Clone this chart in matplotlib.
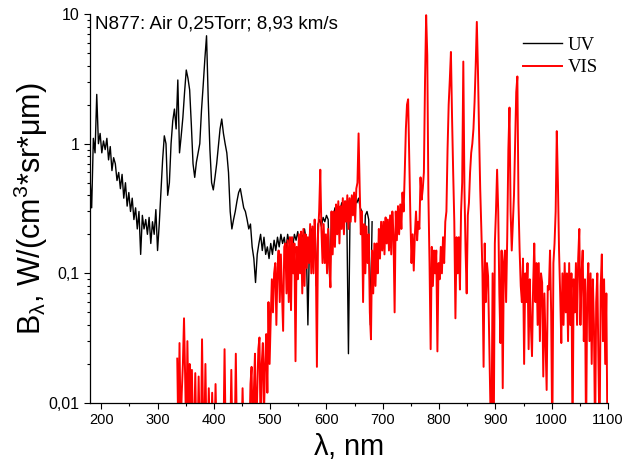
import numpy as np
import matplotlib
matplotlib.use("Agg")
import matplotlib.pyplot as plt
from matplotlib.ticker import FixedLocator, NullFormatter, LogLocator

plt.rcParams['font.family'] = ['Liberation Sans', 'DejaVu Sans']
plt.rcParams['mathtext.fontset'] = 'custom'
plt.rcParams['mathtext.rm'] = 'Liberation Sans'
plt.rcParams['mathtext.it'] = 'Liberation Sans:italic'
plt.rcParams['mathtext.default'] = 'regular'

# UV spectrum: 180 nm onwards, 3 nm step
uv_start, uv_step = 180, 3
uv_vals = [
    0.55, 0.32, 1.1, 0.85, 2.4, 1.0, 1.2, 0.85, 1.05, 0.9,
    1.1, 0.75, 0.95, 0.62, 0.78, 0.7, 0.52, 0.6, 0.45, 0.58,
    0.38, 0.5, 0.33, 0.42, 0.3, 0.38, 0.26, 0.32, 0.22, 0.3,
    0.14, 0.28, 0.22, 0.26, 0.2, 0.27, 0.17, 0.25, 0.2, 0.31,
    0.15, 0.24, 0.42, 0.75, 1.15, 1.0, 0.4, 0.5, 1.0, 1.5,
    1.85, 1.3, 3.1, 0.85, 1.15, 1.6, 2.5, 3.7, 3.2, 2.6,
    1.4, 0.7, 0.55, 0.72, 0.85, 1.0, 1.8, 2.8, 4.5, 6.8,
    2.2, 0.9, 0.5, 0.44, 0.55, 0.7, 0.95, 1.3, 1.55, 1.2,
    1.0, 0.85, 0.6, 0.3, 0.22, 0.26, 0.3, 0.36, 0.42, 0.45,
    0.38, 0.32, 0.3, 0.26, 0.22, 0.24, 0.16, 0.13, 0.085, 0.14,
    0.17, 0.2, 0.15, 0.19, 0.14, 0.16, 0.13, 0.17, 0.14, 0.18,
    0.15, 0.19, 0.16, 0.2, 0.17, 0.19, 0.15, 0.2, 0.17, 0.19,
    0.16, 0.2, 0.18, 0.21, 0.17, 0.2, 0.19, 0.22, 0.18, 0.04,
    0.2, 0.22, 0.19, 0.23, 0.08, 0.24, 0.26, 0.23, 0.27, 0.25,
    0.28, 0.26, 0.08, 0.3, 0.27, 0.32, 0.29, 0.33, 0.3, 0.35,
    0.32, 0.36, 0.3, 0.024, 0.34, 0.3, 0.33, 0.37, 0.35, 0.38,
    0.32, 0.3, 0.1, 0.28, 0.3, 0.26, 0.04, 0.25,
]

# VIS spectrum: 335 nm onwards, 2 nm step (values < 0.01 fall below the axis)
vis_start, vis_step = 335, 2
vis_vals = [
    0.022, 0.005, 0.029, 0.006, 0.012, 0.02, 0.045, 0.016, 0.005, 0.03,
    0.008, 0.02, 0.005, 0.018, 0.005, 0.006, 0.017, 0.005, 0.005, 0.016,
    0.005, 0.005, 0.031, 0.007, 0.005, 0.02, 0.005, 0.005, 0.013, 0.005,
    0.005, 0.012, 0.005, 0.005, 0.014, 0.005, 0.005, 0.005, 0.005, 0.005,
    0.005, 0.005, 0.026, 0.005, 0.005, 0.005, 0.005, 0.005, 0.018, 0.005,
    0.005, 0.005, 0.024, 0.005, 0.005, 0.005, 0.005, 0.005, 0.013, 0.005,
    0.005, 0.005, 0.005, 0.005, 0.005, 0.014, 0.019, 0.005, 0.012, 0.024,
    0.005, 0.012, 0.026, 0.032, 0.006, 0.02, 0.029, 0.008, 0.02, 0.034,
    0.012, 0.06, 0.02, 0.045, 0.09, 0.05, 0.1, 0.12, 0.04, 0.11,
    0.15, 0.06, 0.14, 0.07, 0.036, 0.16, 0.17, 0.07, 0.18, 0.06,
    0.19, 0.052, 0.19, 0.1, 0.17, 0.021, 0.16, 0.09, 0.2, 0.1,
    0.21, 0.07, 0.22, 0.08, 0.2, 0.11, 0.19, 0.12, 0.24, 0.1,
    0.23, 0.1, 0.26, 0.14, 0.019, 0.2, 0.3, 0.63, 0.22, 0.12,
    0.24, 0.12, 0.2, 0.1, 0.22, 0.12, 0.078, 0.3, 0.14, 0.3,
    0.16, 0.34, 0.2, 0.36, 0.17, 0.33, 0.22, 0.38, 0.2, 0.36,
    0.25, 0.4, 0.22, 0.38, 0.25, 0.4, 0.28, 0.42, 0.25, 0.45,
    0.5, 1.2, 0.45, 0.2, 0.3, 0.06, 0.24, 0.1, 0.23, 0.12,
    0.2, 0.05, 0.031, 0.15, 0.07, 0.17, 0.08, 0.17, 0.1, 0.22,
    0.13, 0.25, 0.15, 0.25, 0.14, 0.27, 0.17, 0.26, 0.15, 0.28,
    0.14, 0.3, 0.2, 0.05, 0.3, 0.18, 0.33, 0.2, 0.34, 0.22,
    0.42, 0.3, 0.6, 1.3, 2.0, 2.2, 0.8, 0.27, 0.12, 0.2,
    0.105, 0.2, 0.3, 0.18, 0.25, 0.22, 0.55, 0.37, 0.45, 0.6,
    3.0, 9.8, 4.8, 0.4, 0.12, 0.026, 0.16, 0.08, 0.15, 0.1,
    0.15, 0.025, 0.12, 0.09, 0.16, 0.1, 0.19, 0.12, 0.25, 0.3,
    0.9, 2.0, 3.1, 5.1, 1.6, 0.6, 0.25, 0.045, 0.19, 0.1,
    0.19, 0.075, 0.3, 0.5, 4.3, 0.45, 0.15, 0.07, 0.28, 0.35,
    0.6, 0.85, 1.0, 1.3, 2.1, 4.0, 8.7, 3.7, 1.2, 0.45,
    0.22, 0.1, 0.019, 0.17, 0.06, 0.12, 0.095, 0.03, 0.01, 0.005,
    0.1, 0.005, 0.17, 0.3, 0.63, 0.3, 0.07, 0.029, 0.15, 0.013,
    0.12, 0.15, 0.06, 0.19, 0.9, 1.9, 0.3, 0.15, 0.25, 0.4,
    1.0, 2.5, 3.3, 0.35, 0.15, 0.08, 0.06, 0.13, 0.02, 0.1,
    0.06, 0.12, 0.026, 0.09, 0.04, 0.023, 0.08, 0.17, 0.06, 0.12,
    0.04, 0.12, 0.03, 0.1, 0.085, 0.016, 0.07, 0.03, 0.0126, 0.08,
    0.075, 0.15, 0.05, 0.005, 0.12, 0.17, 0.3, 1.25, 0.5, 0.15,
    0.07, 0.029, 0.1, 0.04, 0.12, 0.05, 0.1, 0.03, 0.12, 0.04,
    0.1, 0.005, 0.09, 0.05, 0.12, 0.04, 0.13, 0.22, 0.04, 0.1,
    0.15, 0.03, 0.09, 0.005, 0.07, 0.12, 0.03, 0.1, 0.02, 0.09,
    0.04, 0.005, 0.06, 0.1, 0.02, 0.005, 0.08, 0.14, 0.03, 0.09,
    0.02, 0.07, 0.005,
]

y_ticks = [0.01, 0.1, 1, 10]
y_tick_labels = ["0,01", "0,1", "1", "10"]
x_ticks = list(range(200, 1101, 100))

uv_x = uv_start + uv_step * np.arange(len(uv_vals))
vis_x = vis_start + vis_step * np.arange(len(vis_vals))

fig = plt.figure(figsize=(6.24, 4.68), dpi=100)
ax = fig.add_axes([0.1442, 0.1389, 0.8302, 0.8311])

ax.plot(uv_x, uv_vals, color='black', lw=1.0, label='UV')
ax.plot(vis_x, vis_vals, color='red', lw=1.4, label='VIS')

ax.set_yscale('log')
ax.set_xlim(180, 1100)
ax.set_ylim(0.01, 10)

ax.yaxis.set_major_locator(FixedLocator(y_ticks))
ax.set_yticklabels(y_tick_labels)
ax.yaxis.set_minor_locator(LogLocator(base=10, subs=np.arange(2, 10)))
ax.yaxis.set_minor_formatter(NullFormatter())
ax.set_xticks(x_ticks)
ax.xaxis.set_minor_locator(FixedLocator(range(250, 1100, 100)))

ax.spines['top'].set_visible(False)
ax.spines['right'].set_visible(False)
for s in ['left', 'bottom']:
    ax.spines[s].set_linewidth(0.9)
ax.tick_params(which='major', length=4, width=0.8, direction='out')
ax.tick_params(which='minor', length=2, width=0.8, direction='out')
ax.tick_params(axis='x', labelsize=10.5)
ax.tick_params(axis='y', labelsize=11.5)

ax.set_xlabel(r'$\lambda$, nm', fontsize=21, labelpad=2.5)
ax.set_ylabel(r'B$_{\lambda}$, W/(cm$^{3}$*sr*$\mu$m)', fontsize=22, labelpad=-1)

ax.text(0.01, 0.997, 'N877: Air 0,25Torr; 8,93 km/s', transform=ax.transAxes,
        fontsize=13.5, va='top', ha='left')

ax.legend(loc='upper left', bbox_to_anchor=(0.836, 0.942), frameon=False,
          prop={'family': 'Liberation Serif', 'size': 13.5},
          handlelength=2.1, handletextpad=0.3, borderpad=0, borderaxespad=0,
          labelspacing=0.3)

fig.savefig('out.png', dpi=100)
